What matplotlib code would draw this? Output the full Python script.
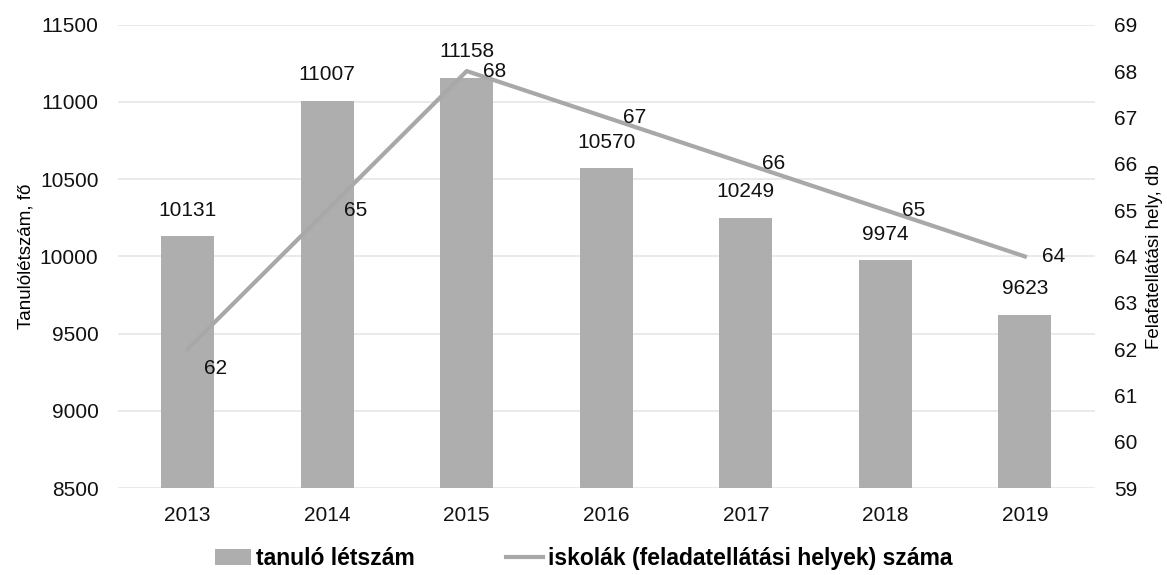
import matplotlib
matplotlib.use("Agg")
import matplotlib.pyplot as plt
import numpy as np

years = ["2013", "2014", "2015", "2016", "2017", "2018", "2019"]
students = [10131, 11007, 11158, 10570, 10249, 9974, 9623]
schools = [62, 65, 68, 67, 66, 65, 64]

plt.rcParams['font.family'] = ['Liberation Sans', 'DejaVu Sans']

fig = plt.figure(figsize=(11.67, 5.75), dpi=100)
ax = fig.add_axes([0.101, 0.151, 0.837, 0.806])
ax2 = ax.twinx()

x = np.arange(len(years))
bar_color = "#aeaeae"
line_color = "#a8a8a8"

ax.bar(x, [s - 8500 for s in students], bottom=8500, width=0.38, color=bar_color, zorder=2)
ax.set_ylim(8500, 11500)
ax.set_yticks(np.arange(8500, 11501, 500))
ax.set_xlim(-0.5, len(years) - 0.5)
ax.set_xticks(x)
ax.set_xticklabels(years)
ax.grid(axis='y', color='#e6e6e6', linewidth=1.2, zorder=0)
ax.set_axisbelow(True)
for s in ax.spines.values():
    s.set_visible(False)
for s in ax2.spines.values():
    s.set_visible(False)
ax.tick_params(axis='both', length=0, labelsize=15, colors='#111111')
ax.tick_params(axis='x', pad=13)
ax.tick_params(axis='y', pad=14)
ax.set_ylabel("Tanulólétszám, fő", fontsize=13.5, labelpad=4)

for xi, v in zip(x, students):
    ax.annotate(str(v), (xi, v), xytext=(0, 12), textcoords='offset points',
                ha='center', va='bottom', fontsize=15, color='#111111')

ax2.plot(x, schools, color=line_color, linewidth=3, zorder=3)
ax2.set_ylim(59, 69)
ax2.set_yticks(np.arange(59, 70, 1))
ax2.tick_params(axis='y', length=0, labelsize=15, colors='#111111', pad=14)
ax2.set_ylabel("Felafatellátási hely, db", fontsize=13.5, labelpad=6)

for xi, v in zip(x, schools):
    dy = -14 if v == 62 else 0
    ax2.annotate(str(v), (xi, v), xytext=(12, dy), textcoords='offset points',
                 ha='left', va='center', fontsize=15, color='#111111')

from matplotlib.patches import Patch
from matplotlib.lines import Line2D
handles = [Patch(facecolor=bar_color, edgecolor='none'),
           Line2D([0], [0], color=line_color, linewidth=3)]
labels = ["tanuló létszám", "iskolák (feladatellátási helyek) száma"]
leg = fig.legend(handles, labels, loc='lower center', bbox_to_anchor=(0.5, -0.028),
                 ncol=2, frameon=False, prop={'weight': 'bold', 'size': 16.5},
                 handlelength=1.6, handletextpad=0.2, columnspacing=4.0)

fig.savefig("out.png", dpi=100)
